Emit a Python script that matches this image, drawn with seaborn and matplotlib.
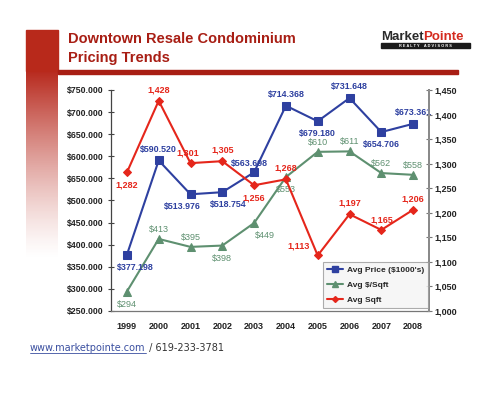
import numpy as np
import pandas as pd
import matplotlib
matplotlib.use("Agg")
import matplotlib.pyplot as plt
import seaborn as sns
from matplotlib.lines import Line2D

years = ["1999", "2000", "2001", "2002", "2003", "2004", "2005", "2006", "2007", "2008"]
avg_price = [377.198, 590.520, 513.976, 518.754, 563.698, 714.368, 679.180, 731.648, 654.706, 673.361]
avg_psf = [294, 413, 395, 398, 449, 553, 610, 611, 562, 558]
avg_sqft = [1282, 1428, 1301, 1305, 1256, 1268, 1113, 1197, 1165, 1206]

left_ticks = [250, 300, 350, 400, 450, 500, 550, 600, 650, 700, 750]
left_labels = ["$250.000", "$300.000", "$350.000", "$400.000", "$450.000", "$500.000",
               "$650.000", "$600.000", "$650.000", "$700.000", "$750.000"]
right_ticks = [1000, 1050, 1100, 1150, 1200, 1250, 1300, 1350, 1400, 1450]

# label placement: (dx, dy) in points
price_off = [(6, -9), (0, 8), (-6, -9), (4, -9), (-3, 6), (0, 8), (0, -9), (0, 8), (0, -9), (0, 8)]
psf_off = [(0, -9), (0, 7), (0, 7), (0, -9), (8, -9), (0, -9), (0, 7), (0, 7), (0, 7), (0, 7)]
sqft_off = [(0, -9), (0, 8), (-2, 7), (0, 8), (0, -9), (0, 8), (-14, 7), (0, 8), (0, 7), (0, 8)]

BLUE = "#2E40A0"
GREEN = "#5E9070"
RED = "#E5261B"
DARKRED = "#A81E14"

sns.set_theme(style="white")
plt.rcParams["font.family"] = ["Liberation Sans", "DejaVu Sans"]

df = pd.DataFrame({"year": years, "price": avg_price, "psf": avg_psf, "sqft": avg_sqft})
df["x"] = np.arange(len(years))

fig = plt.figure(figsize=(5.0, 3.98), dpi=100)
renderer = fig.canvas.get_renderer()

# background decoration
bg = fig.add_axes([0, 0, 1, 1], zorder=-5)
bg.set_xlim(0, 500)
bg.set_ylim(398, 0)
bg.axis("off")
h = 200
yy = np.linspace(0, 1, h)[:, None] * np.ones((1, 4))
alpha = np.clip(1 - yy, 0, 1) ** 1.3
img = np.zeros((h, 4, 4))
img[..., 0] = 0.72
img[..., 1] = 0.16
img[..., 2] = 0.11
img[..., 3] = alpha
bg.imshow(img, extent=(26, 58, 260, 70), aspect="auto", zorder=0, interpolation="bilinear")
bg.add_patch(plt.Rectangle((26, 30), 32, 41, color="#B8291B", zorder=1))
bg.add_patch(plt.Rectangle((58, 70), 400, 4, color=DARKRED, zorder=1))
bg.text(68, 39, "Downtown Resale Condominium", color=DARKRED, fontsize=10.5,
        fontweight="bold", va="center", ha="left")
bg.text(68, 58, "Pricing Trends", color=DARKRED, fontsize=10.5,
        fontweight="bold", va="center", ha="left")

# logo
fs = 9.5
t1 = bg.text(381, 36.5, "Market", color="#2B2B2B", fontsize=fs, fontweight="bold",
             va="center", ha="left")
e1 = t1.get_window_extent(renderer)
x_end = bg.transData.inverted().transform((e1.x1, e1.y0))[0]
bg.text(x_end, 36.5, "Pointe", color="#D42A1E", fontsize=fs, fontweight="bold",
        va="center", ha="left")
bg.add_patch(plt.Rectangle((381, 43), 89, 5, color="#1A1A1A", zorder=1))
bg.text(425.5, 45.6, "R E A L T Y    A D V I S O R S", color="white", fontsize=2.8,
        fontweight="bold", va="center", ha="center", zorder=2)

# footer
u = bg.text(30, 348, "www.marketpointe.com", color="#3A4FA0", fontsize=7,
            family="DejaVu Sans", va="center", ha="left")
eu = u.get_window_extent(renderer)
ux1 = bg.transData.inverted().transform((eu.x1, eu.y0))[0]
bg.add_line(Line2D([30, ux1], [353, 353], color="#3A4FA0", lw=0.6))
bg.text(ux1, 348, " / 619-233-3781", color="#333333", fontsize=7,
        family="DejaVu Sans", va="center", ha="left")

ax = fig.add_axes([0.222, 0.2186, 0.636, 0.5554])
ax2 = ax.twinx()

sns.lineplot(data=df, x="x", y="price", ax=ax, color=BLUE, marker="s", markersize=5.5,
             lw=1.5, markeredgecolor=BLUE, legend=False)
sns.lineplot(data=df, x="x", y="psf", ax=ax, color=GREEN, marker="^", markersize=5.5,
             lw=1.5, markeredgecolor=GREEN, legend=False)
sns.lineplot(data=df, x="x", y="sqft", ax=ax2, color=RED, marker="D", markersize=3.8,
             lw=1.5, markeredgecolor=RED, legend=False)

for i in range(len(years)):
    ax.annotate("$" + f"{avg_price[i]:.3f}", (i, avg_price[i]), textcoords="offset points",
                xytext=price_off[i], ha="center", va="center", color=BLUE, fontsize=6.4,
                fontweight="bold")
    ax.annotate(f"${avg_psf[i]}", (i, avg_psf[i]), textcoords="offset points",
                xytext=psf_off[i], ha="center", va="center", color=GREEN, fontsize=6.5)
    ax2.annotate(f"{avg_sqft[i]:,}", (i, avg_sqft[i]), textcoords="offset points",
                 xytext=sqft_off[i], ha="center", va="center", color=RED, fontsize=6.5,
                 fontweight="bold")

ax.set_xlim(-0.5, len(years) - 0.5)
ax.set_ylim(250, 750)
ax2.set_ylim(1000, 1450)
ax.set_yticks(left_ticks)
ax.set_yticklabels(left_labels, fontsize=6.3, fontweight="bold")
ax2.set_yticks(right_ticks)
ax2.set_yticklabels([f"{v:,}" for v in right_ticks], fontsize=6.5, fontweight="bold")
ax.set_xticks(range(len(years)))
ax.set_xticklabels(years, fontsize=6.5, fontweight="bold")
ax.set_xticks(np.arange(-0.5, len(years)), minor=True)
ax.tick_params(axis="x", which="major", length=0, pad=8, colors="#222222")
ax.tick_params(axis="x", which="minor", length=5, direction="inout", color="#555555", width=0.8)
ax.tick_params(axis="y", length=5, direction="inout", width=0.8, pad=3, colors="#222222")
ax.tick_params(axis="y", color="#444444")
ax2.tick_params(axis="y", length=5, direction="inout", width=0.8, pad=1.5, colors="#222222")
ax2.tick_params(axis="y", color="#777777")
for a in (ax, ax2):
    a.set_xlabel("")
    a.set_ylabel("")
    a.spines["top"].set_visible(False)
    a.grid(False)
ax.patch.set_alpha(0)
ax.spines["left"].set_color("#444444")
ax.spines["bottom"].set_color("#777777")
ax2.spines["right"].set_color("#999999")
ax2.spines["left"].set_visible(False)
ax2.spines["bottom"].set_visible(False)
for s in ("left", "bottom"):
    ax.spines[s].set_linewidth(0.9)
ax2.spines["right"].set_linewidth(1.2)

handles = [
    Line2D([], [], color=BLUE, marker="s", markersize=4, lw=1.5),
    Line2D([], [], color=GREEN, marker="^", markersize=4, lw=1.5),
    Line2D([], [], color=RED, marker="D", markersize=3, lw=1.5),
]
leg = ax2.legend(handles, ["Avg Price ($1000's)", "Avg $/Sqft", "Avg Sqft"],
                 loc="lower right", bbox_to_anchor=(1.0, 0.01), frameon=True,
                 fancybox=False, prop={"size": 6, "weight": "bold"},
                 handlelength=2.0, handletextpad=0.4, borderpad=0.5, labelspacing=0.85,
                 borderaxespad=0.1)
leg.get_frame().set_facecolor("#F4F4F4")
leg.get_frame().set_edgecolor("#999999")
leg.get_frame().set_linewidth(0.8)

fig.savefig("out.png", dpi=100)
